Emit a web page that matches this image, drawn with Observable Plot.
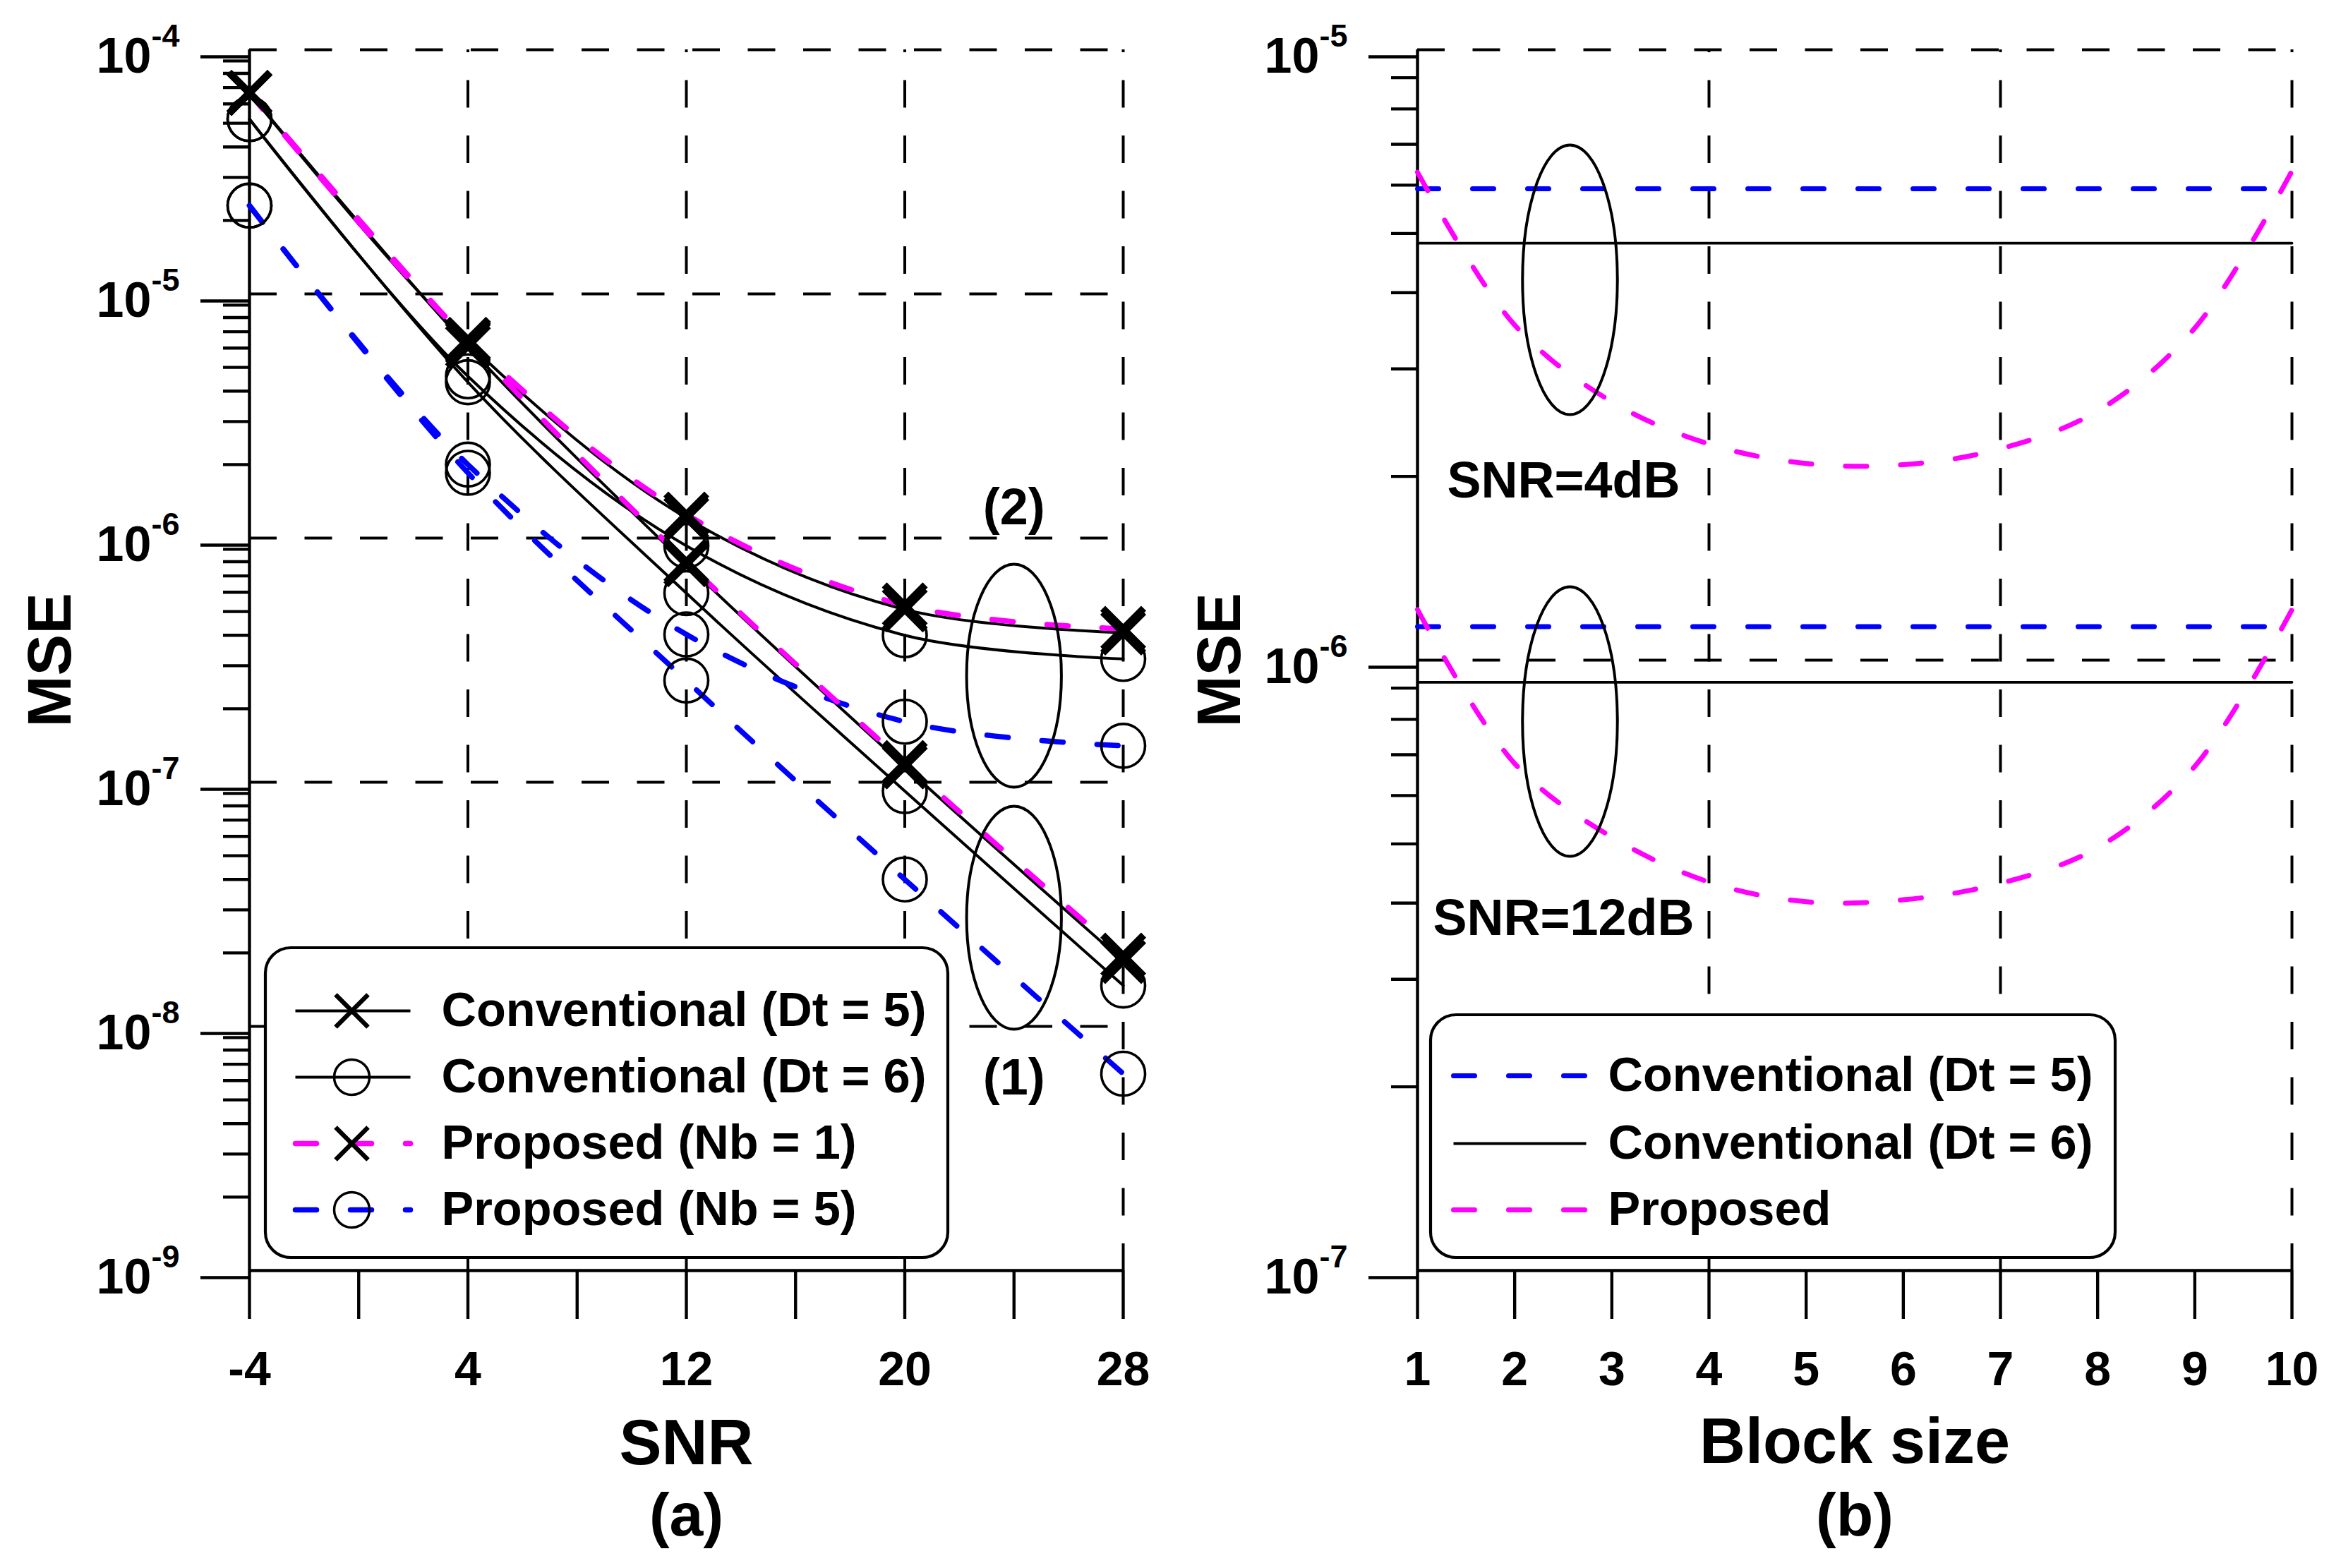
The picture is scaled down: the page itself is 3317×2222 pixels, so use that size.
<!DOCTYPE html>
<html>
<head>
<meta charset="utf-8">
<script src="https://cdn.jsdelivr.net/npm/d3@7"></script>
<script src="https://cdn.jsdelivr.net/npm/@observablehq/plot@0.6"></script>
<style>
  html, body { margin: 0; padding: 0; background: #fff; overflow: hidden; }
  #wrap { display: flex; width: 3317px; height: 2222px; background: #fff; }
  #wrap svg { display: block; }
</style>
</head>
<body>
<div id="wrap"><div id="pa"></div><div id="pb"></div></div>
<script>
// ---------------- DATA : panel (a) ----------------
const snr = [-4, 4, 12, 20, 28];
// group (1)
const convDt5_1 = [6.65e-5, 6.1e-6, 7.8e-7, 1.16e-7, 1.85e-8];
const convDt6_1 = [5.2e-5, 4.35e-6, 5.95e-7, 9.2e-8, 1.47e-8];
const propNb1_1 = [6.65e-5, 6.4e-6, 8.0e-7, 1.2e-7, 1.95e-8];
const propNb5_1 = [2.3e-5, 1.85e-6, 2.61e-7, 4.0e-8, 6.4e-9];
// group (2)
const convDt5_2 = [6.65e-5, 6.3e-6, 1.21e-6, 5.1e-7, 4.1e-7];
const convDt6_2 = [5.2e-5, 4.6e-6, 9.3e-7, 4.0e-7, 3.2e-7];
const propNb1_2 = [6.65e-5, 6.5e-6, 1.25e-6, 5.3e-7, 4.25e-7];
const propNb5_2 = [2.3e-5, 2.0e-6, 4.03e-7, 1.77e-7, 1.41e-7];

const snrTicks = [-4, 0, 4, 8, 12, 16, 20, 24, 28];
const snrTickLabels = ["-4", "", "4", "", "12", "", "20", "", "28"];
const snrGrid = [4, 12, 20, 28];
const mseDecadesA = [1e-9, 1e-8, 1e-7, 1e-6, 1e-5, 1e-4];
const mseGridA = [1e-8, 1e-7, 1e-6, 1e-5, 1e-4];
const legendLabelsA = ["Conventional (Dt = 5)", "Conventional (Dt = 6)", "Proposed (Nb = 1)", "Proposed (Nb = 5)"];
const groupLabels = ["(1)", "(2)"];

// ---------------- DATA : panel (b) ----------------
const blockSize = [1, 2, 3, 4, 5, 6, 7, 8, 9, 10];
const conv5_4dB  = [5.92e-6, 5.92e-6, 5.92e-6, 5.92e-6, 5.92e-6, 5.92e-6, 5.92e-6, 5.92e-6, 5.92e-6, 5.92e-6];
const conv6_4dB  = [4.82e-6, 4.82e-6, 4.82e-6, 4.82e-6, 4.82e-6, 4.82e-6, 4.82e-6, 4.82e-6, 4.82e-6, 4.82e-6];
const prop_4dB   = [6.3e-6, 3.54e-6, 2.65e-6, 2.26e-6, 2.1e-6, 2.09e-6, 2.22e-6, 2.56e-6, 3.5e-6, 6.33e-6];
const conv5_12dB = [1.135e-6, 1.135e-6, 1.135e-6, 1.135e-6, 1.135e-6, 1.135e-6, 1.135e-6, 1.135e-6, 1.135e-6, 1.135e-6];
const conv6_12dB = [9.2e-7, 9.2e-7, 9.2e-7, 9.2e-7, 9.2e-7, 9.2e-7, 9.2e-7, 9.2e-7, 9.2e-7, 9.2e-7];
const prop_12dB  = [1.21e-6, 6.77e-7, 5.13e-7, 4.33e-7, 4.02e-7, 4.05e-7, 4.31e-7, 4.93e-7, 6.7e-7, 1.21e-6];

const blockGrid = [4, 7, 10];
const mseDecadesB = [1e-7, 1e-6, 1e-5];
const mseGridB = [1e-6, 1e-5];
const legendLabelsB = ["Conventional (Dt = 5)", "Conventional (Dt = 6)", "Proposed"];
const snrLabelsB = ["SNR=4dB", "SNR=12dB"];

// ---------------- helpers ----------------
const H = 2222;
const FONT = "'Liberation Sans', Arial, Helvetica, sans-serif";
const BLUE = "#0000ff", MAG = "#ff00ff", BLACK = "#000";
const SERIES_DASH = "30,48";
const GRID_DASH = "39,39.5";

function minorTicks(decades) {
  const out = [];
  for (let i = 0; i < decades.length - 1; i++)
    for (let m = 2; m <= 9; m++) out.push(m * decades[i]);
  return out;
}
function inverters(xDom, yDom, m, W) {
  const pw = W - m.left - m.right, ph = H - m.top - m.bottom;
  const lt = Math.log10(yDom[1]), lb = Math.log10(yDom[0]);
  return {
    ix: px => xDom[0] + (px - m.left) / pw * (xDom[1] - xDom[0]),
    iy: py => Math.pow(10, lt - (py - m.top) / ph * (lt - lb))
  };
}
const crossSymbol = {
  draw(ctx, size) {
    const a = Math.sqrt(size / Math.PI);
    ctx.moveTo(-a, -a); ctx.lineTo(a, a);
    ctx.moveTo(-a, a); ctx.lineTo(a, -a);
  }
};
function ellipseSymbol(ratio) {
  return {
    draw(ctx, size) {
      const ry = Math.sqrt(size / Math.PI), rx = ry * ratio, k = 0.5522847498;
      ctx.moveTo(rx, 0);
      ctx.bezierCurveTo(rx, k * ry, k * rx, ry, 0, ry);
      ctx.bezierCurveTo(-k * rx, ry, -rx, k * ry, -rx, 0);
      ctx.bezierCurveTo(-rx, -k * ry, -k * rx, -ry, 0, -ry);
      ctx.bezierCurveTo(k * rx, -ry, rx, -k * ry, rx, 0);
      ctx.closePath();
    }
  };
}
function superscripts(svg) {
  const ns = "http://www.w3.org/2000/svg";
  svg.querySelectorAll("text").forEach(t => {
    const s = t.textContent;
    if (s.includes("^")) {
      const [b, e] = s.split("^");
      t.textContent = b;
      const ts = document.createElementNS(ns, "tspan");
      ts.setAttribute("dy", "-37");
      ts.setAttribute("font-size", "45");
      ts.textContent = e;
      t.appendChild(ts);
    }
  });
}
const decFmt = d => "10^" + Math.round(Math.log10(d));
const titleOpts = {text: d => d, fontWeight: "bold", fill: BLACK, textAnchor: "middle", lineAnchor: "middle"};

// ---------------- panel (a) ----------------
{
  const W = 1660;
  const m = {top: 70, right: 69, bottom: 422, left: 353};
  const xDom = [-4, 28], yDom = [1e-9, 1e-4];
  const {ix, iy} = inverters(xDom, yDom, m, W);
  const rows = (ys, key) => snr.map((x, i) => ({x, y: ys[i], key}));

  const black = [...rows(convDt5_1, "c5_1"), ...rows(convDt5_2, "c5_2"), ...rows(convDt6_1, "c6_1"), ...rows(convDt6_2, "c6_2")];
  const mag = [...rows(propNb1_1, "p1_1"), ...rows(propNb1_2, "p1_2")];
  const blue = [...rows(propNb5_1, "p5_1"), ...rows(propNb5_2, "p5_2")];
  const xMarks = [...rows(convDt5_1), ...rows(convDt5_2), ...rows(propNb1_1), ...rows(propNb1_2)];
  const oMarks = [...rows(convDt6_1), ...rows(convDt6_2), ...rows(propNb5_1), ...rows(propNb5_2)];

  const legStyles = [
    {stroke: BLACK, dash: null, mk: "x"},
    {stroke: BLACK, dash: null, mk: "o"},
    {stroke: MAG, dash: SERIES_DASH, mk: "x"},
    {stroke: BLUE, dash: SERIES_DASH, mk: "o"}
  ];
  const rowY = [1432, 1526, 1620, 1714];
  const legMarks = [
    Plot.rect([0], {x1: ix(376), x2: ix(1343), y1: iy(1343), y2: iy(1782), rx: 36, fill: "#fff", stroke: BLACK, strokeWidth: 4.2})
  ];
  legendLabelsA.forEach((lab, i) => {
    const st = legStyles[i];
    legMarks.push(Plot.line([{x: ix(418), y: iy(rowY[i])}, {x: ix(581), y: iy(rowY[i])}],
      {x: "x", y: "y", stroke: st.stroke, strokeWidth: st.dash ? 7.5 : 4, strokeDasharray: st.dash, strokeLinecap: st.dash ? "round" : "butt"}));
    if (st.mk === "x")
      legMarks.push(Plot.dot([{x: ix(498), y: iy(rowY[i])}], {x: "x", y: "y", symbol: crossSymbol, r: 23, fill: "none", stroke: BLACK, strokeWidth: 6.5}));
    else
      legMarks.push(Plot.dot([{x: ix(498), y: iy(rowY[i])}], {x: "x", y: "y", symbol: "circle", r: 25, fill: "none", stroke: BLACK, strokeWidth: 3.5}));
    legMarks.push(Plot.text([lab], {x: ix(625), y: iy(rowY[i]), text: d => d, textAnchor: "start", fontSize: 68.5, fontWeight: "bold", fill: BLACK}));
  });

  const plotA = Plot.plot({
    width: W, height: H,
    marginTop: m.top, marginRight: m.right, marginBottom: m.bottom, marginLeft: m.left,
    x: {domain: xDom},
    y: {type: "log", domain: yDom},
    style: {fontFamily: FONT, fontWeight: "bold", background: "#fff", color: "#000", overflow: "visible"},
    marks: [
      Plot.ruleX(snrGrid, {stroke: BLACK, strokeWidth: 4, strokeDasharray: GRID_DASH, strokeDashoffset: 35}),
      Plot.ruleY(mseGridA, {stroke: BLACK, strokeWidth: 4, strokeDasharray: GRID_DASH}),
      Plot.ruleX([xDom[0]], {stroke: BLACK, strokeWidth: 4.4}),
      Plot.ruleY([yDom[0]], {stroke: BLACK, strokeWidth: 4.4}),
      Plot.axisX({ticks: snrTicks, tickSize: 69, tickPadding: 45, strokeWidth: 4.4, fontSize: 68, fontWeight: "bold",
        tickFormat: d => snrTickLabels[snrTicks.indexOf(d)], label: null}),
      Plot.axisY({ticks: mseDecadesA, tickSize: 69, tickPadding: 30, strokeWidth: 4.4, fontSize: 70, fontWeight: "bold",
        tickFormat: decFmt, dy: 10, label: null}),
      Plot.axisY({ticks: minorTicks(mseDecadesA), tickSize: 37, strokeWidth: 4.4, tickFormat: () => "", label: null}),
      // series lines
      Plot.line(black, {x: "x", y: "y", z: "key", curve: "catmull-rom", stroke: BLACK, strokeWidth: 4}),
      Plot.line(blue, {x: "x", y: "y", z: "key", curve: "catmull-rom", stroke: BLUE, strokeWidth: 7.5, strokeDasharray: SERIES_DASH, strokeLinecap: "round"}),
      Plot.line(mag, {x: "x", y: "y", z: "key", curve: "catmull-rom", stroke: MAG, strokeWidth: 7.5, strokeDasharray: SERIES_DASH, strokeLinecap: "round"}),
      // markers
      Plot.dot(oMarks, {x: "x", y: "y", symbol: "circle", r: 31, fill: "none", stroke: BLACK, strokeWidth: 3.6}),
      Plot.dot(xMarks, {x: "x", y: "y", symbol: crossSymbol, r: 29, fill: "none", stroke: BLACK, strokeWidth: 10}),
      // group ellipses + labels
      Plot.dot([{x: 24, y: iy(957)}, {x: 24, y: iy(1300)}], {x: "x", y: "y", symbol: ellipseSymbol(0.425), r: 158, fill: "none", stroke: BLACK, strokeWidth: 4}),
      Plot.text([{t: groupLabels[1], y: iy(719)}, {t: groupLabels[0], y: iy(1527)}], {x: () => 24, y: "y", text: "t", fontSize: 72, fontWeight: "bold", fill: BLACK}),
      ...legMarks,
      // axis titles
      Plot.text(["SNR"], {...titleOpts, frameAnchor: "bottom", dy: 246, fontSize: 90}),
      Plot.text(["(a)"], {...titleOpts, frameAnchor: "bottom", dy: 348, fontSize: 86}),
      Plot.text(["MSE"], {...titleOpts, frameAnchor: "left", dx: -282, rotate: -90, fontSize: 88})
    ]
  });
  superscripts(plotA);
  document.getElementById("pa").appendChild(plotA);
}

// ---------------- panel (b) ----------------
{
  const W = 1657;
  const m = {top: 70, right: 70, bottom: 422, left: 348};
  const xDom = [1, 10], yDom = [1e-7, 1e-5];
  const {ix, iy} = inverters(xDom, yDom, m, W);
  const rows = (ys, key) => blockSize.map((x, i) => ({x, y: ys[i], key}));

  const blue = [...rows(conv5_4dB, "a"), ...rows(conv5_12dB, "b")];
  const black = [...rows(conv6_4dB, "a"), ...rows(conv6_12dB, "b")];
  const mag = [...rows(prop_4dB, "a"), ...rows(prop_12dB, "b")];

  const legStyles = [
    {stroke: BLUE, dash: SERIES_DASH},
    {stroke: BLACK, dash: null},
    {stroke: MAG, dash: SERIES_DASH}
  ];
  const rowY = [1524, 1620, 1714];
  const legMarks = [
    Plot.rect([0], {x1: ix(367), x2: ix(1337), y1: iy(1438), y2: iy(1782), rx: 36, fill: "#fff", stroke: BLACK, strokeWidth: 4.2})
  ];
  legendLabelsB.forEach((lab, i) => {
    const st = legStyles[i];
    legMarks.push(Plot.line([{x: ix(399), y: iy(rowY[i])}, {x: ix(587), y: iy(rowY[i])}],
      {x: "x", y: "y", stroke: st.stroke, strokeWidth: st.dash ? 7 : 4, strokeDasharray: st.dash, strokeLinecap: st.dash ? "round" : "butt"}));
    legMarks.push(Plot.text([lab], {x: ix(618), y: iy(rowY[i]), text: d => d, textAnchor: "start", fontSize: 68.5, fontWeight: "bold", fill: BLACK}));
  });

  const plotB = Plot.plot({
    width: W, height: H,
    marginTop: m.top, marginRight: m.right, marginBottom: m.bottom, marginLeft: m.left,
    x: {domain: xDom},
    y: {type: "log", domain: yDom},
    style: {fontFamily: FONT, fontWeight: "bold", background: "#fff", color: "#000", overflow: "visible"},
    marks: [
      Plot.ruleX(blockGrid, {stroke: BLACK, strokeWidth: 4, strokeDasharray: GRID_DASH, strokeDashoffset: 35}),
      Plot.ruleY(mseGridB, {stroke: BLACK, strokeWidth: 4, strokeDasharray: GRID_DASH}),
      Plot.ruleX([xDom[0]], {stroke: BLACK, strokeWidth: 4.4}),
      Plot.ruleY([yDom[0]], {stroke: BLACK, strokeWidth: 4.4}),
      Plot.axisX({ticks: blockSize, tickSize: 69, tickPadding: 45, strokeWidth: 4.4, fontSize: 68, fontWeight: "bold",
        tickFormat: d => String(d), label: null}),
      Plot.axisY({ticks: mseDecadesB, tickSize: 69, tickPadding: 30, strokeWidth: 4.4, fontSize: 70, fontWeight: "bold",
        tickFormat: decFmt, dy: 10, label: null}),
      Plot.axisY({ticks: minorTicks(mseDecadesB), tickSize: 37, strokeWidth: 4.4, tickFormat: () => "", label: null}),
      Plot.line(black, {x: "x", y: "y", z: "key", stroke: BLACK, strokeWidth: 3.8}),
      Plot.line(blue, {x: "x", y: "y", z: "key", stroke: BLUE, strokeWidth: 7, strokeDasharray: SERIES_DASH, strokeLinecap: "round"}),
      Plot.line(mag, {x: "x", y: "y", z: "key", curve: "catmull-rom", stroke: MAG, strokeWidth: 7, strokeDasharray: SERIES_DASH, strokeLinecap: "round"}),
      Plot.dot([{x: ix(564), y: iy(396)}, {x: ix(564), y: iy(1022)}], {x: "x", y: "y", symbol: ellipseSymbol(0.352), r: 191, fill: "none", stroke: BLACK, strokeWidth: 4}),
      Plot.text([{t: snrLabelsB[0], y: iy(681)}, {t: snrLabelsB[1], y: iy(1301)}], {x: () => ix(555), y: "y", text: "t", fontSize: 72, fontWeight: "bold", fill: BLACK}),
      ...legMarks,
      Plot.text(["Block size"], {...titleOpts, frameAnchor: "bottom", dy: 244, fontSize: 90}),
      Plot.text(["(b)"], {...titleOpts, frameAnchor: "bottom", dy: 348, fontSize: 86}),
      Plot.text(["MSE"], {...titleOpts, frameAnchor: "left", dx: -280, rotate: -90, fontSize: 88})
    ]
  });
  superscripts(plotB);
  document.getElementById("pb").appendChild(plotB);
}
</script>
</body>
</html>
